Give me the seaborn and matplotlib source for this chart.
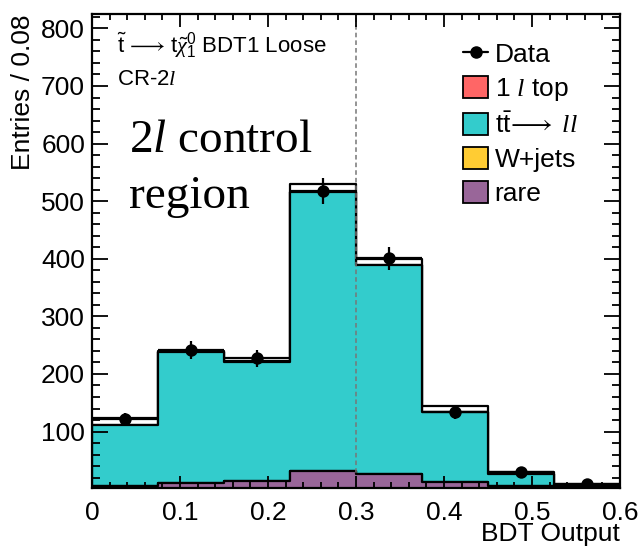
import numpy as np
import pandas as pd
import matplotlib
matplotlib.use("Agg")
import matplotlib.pyplot as plt
import seaborn as sns
from matplotlib.lines import Line2D
from matplotlib.patches import Patch
from matplotlib.ticker import MultipleLocator

# ---------------- data ----------------
bin_edges = [0.0, 0.075, 0.15, 0.225, 0.3, 0.375, 0.45, 0.525, 0.6]
data_counts = [122, 241, 227, 517, 401, 134, 29, 9]
total_mc = [123, 240, 223, 529, 400, 145, 29, 9]
ttll = [106, 227, 205, 484, 362, 121, 21, 3]
rare = [6, 11, 15, 32, 27, 13, 6, 2]
wjets = [0, 0, 0, 0, 0, 0, 0, 0]
onel_top = [0, 0, 0, 0, 0, 0, 0, 0]
x_ticks = [0, 0.1, 0.2, 0.3, 0.4, 0.5, 0.6]
y_ticks = [100, 200, 300, 400, 500, 600, 700, 800]

labels = ["Data", r"1 $l$ top", r"$\mathrm{t\bar{t}}\!\longrightarrow\ ll$", "W+jets", "rare"]
colors = {"1l": "#FF6666", "ttll": "#33CCCC", "wjets": "#FFCC33", "rare": "#996699"}

sns.set_theme(style="ticks")
plt.rcParams["font.family"] = ["Liberation Sans", "DejaVu Sans"]
plt.rcParams["mathtext.fontset"] = "custom"
plt.rcParams["mathtext.rm"] = "Liberation Sans"
plt.rcParams["mathtext.it"] = "Liberation Serif:italic"
plt.rcParams["mathtext.bf"] = "Liberation Sans:bold"

W, H = 642, 548
fig = plt.figure(figsize=(W / 100, H / 100), dpi=100)
ax = fig.add_axes([92 / W, (H - 488) / H, (620 - 92) / W, (488 - 14) / H])
ax.set_axisbelow(False)

edges = np.array(bin_edges)
centers = 0.5 * (edges[:-1] + edges[1:])
half = 0.5 * (edges[1:] - edges[:-1])

rare_a = np.array(rare, float)
wj_a = np.array(wjets, float)
tt_a = np.array(ttll, float)
l1_a = np.array(onel_top, float)

layers = [
    (np.array(total_mc, float), "white"),
    (rare_a + wj_a + tt_a + l1_a, colors["1l"]),
    (rare_a + wj_a + tt_a, colors["ttll"]),
    (rare_a + wj_a, colors["wjets"]),
    (rare_a, colors["rare"]),
]
lw = 1.6
for i, (heights, col) in enumerate(layers):
    df = pd.DataFrame({"x": centers, "w": heights})
    sns.histplot(data=df, x="x", weights="w", bins=list(bin_edges), element="step",
                 fill=True, color=col, alpha=1, edgecolor="black",
                 linewidth=lw, ax=ax, zorder=1.0 + 0.2 * i)

# dashed cut line
ax.axvline(0.3, color="#777777", ls=(0, (3, 2)), lw=1.1, zorder=2.3)

# data points
dd = pd.DataFrame({"x": centers, "y": data_counts})
ax.errorbar(centers, data_counts, yerr=np.sqrt(data_counts), xerr=half,
            fmt="none", ecolor="black", elinewidth=1.6, capsize=0, zorder=9)
sns.scatterplot(data=dd, x="x", y="y", color="black", s=80, edgecolor="black",
                linewidth=0, ax=ax, zorder=10)

ax.set_xlim(0, 0.6)
ax.set_ylim(2, 825)
ax.set_xticks(x_ticks)
ax.set_xticklabels(["0", "0.1", "0.2", "0.3", "0.4", "0.5", "0.6"])
ax.set_yticks(y_ticks)
ax.xaxis.set_minor_locator(MultipleLocator(0.02))
ax.yaxis.set_minor_locator(MultipleLocator(20))
ax.tick_params(which="both", direction="in", top=True, right=True, labelsize=19,
               width=1.3, color="black", labelcolor="black")
ax.tick_params(axis="x", which="major", length=9, pad=9)
ax.tick_params(axis="x", which="minor", length=4.5)
ax.tick_params(axis="y", which="major", length=11.5, pad=5)
ax.tick_params(axis="y", which="minor", length=5.8)
for s in ax.spines.values():
    s.set_linewidth(1.6)
    s.set_color("black")
    s.set_zorder(20)

ax.set_xlabel("BDT Output", fontsize=19, ha="right", color="black")
ax.xaxis.set_label_coords(1.0, -0.072)
ax.set_ylabel("Entries / 0.08", fontsize=19, ha="right", color="black")
ax.yaxis.set_label_coords(-0.108, 1.0)

# annotations
ax.text((117 - 92) / 528, 1 - (53 - 14) / 474,
        r"$\mathrm{\tilde{t}}\,\longrightarrow\,\mathrm{t}\tilde{\chi}_{1}^{0}$ BDT1 Loose",
        transform=ax.transAxes, fontsize=16, va="baseline", ha="left", color="black")
ax.text((117 - 92) / 528, 1 - (85 - 14) / 474, r"CR-2$l$",
        transform=ax.transAxes, fontsize=16, va="baseline", ha="left", color="black")
ax.text((129 - 92) / 528, 1 - (152 - 14) / 474, r"2$l$ control",
        transform=ax.transAxes, fontsize=34, va="baseline", ha="left",
        family="Liberation Serif", color="black")
ax.text((129 - 92) / 528, 1 - (208 - 14) / 474, "region",
        transform=ax.transAxes, fontsize=34, va="baseline", ha="left",
        family="Liberation Serif", color="black")

handles = [
    Line2D([0], [0], color="black", marker="o", ms=8, lw=1.6),
    Patch(facecolor=colors["1l"], edgecolor="black", lw=1.3),
    Patch(facecolor=colors["ttll"], edgecolor="black", lw=1.3),
    Patch(facecolor=colors["wjets"], edgecolor="black", lw=1.3),
    Patch(facecolor=colors["rare"], edgecolor="black", lw=1.3),
]
leg = ax.legend(handles, labels, loc="upper left",
                bbox_to_anchor=((463 - 92) / 528, 1 - (42 - 14) / 474),
                frameon=False, fontsize=19, handlelength=0.95, handleheight=0.9,
                handletextpad=0.25, labelspacing=0.34, borderpad=0, borderaxespad=0)
for t in leg.get_texts():
    t.set_color("black")

fig.savefig("out.png", dpi=100)
